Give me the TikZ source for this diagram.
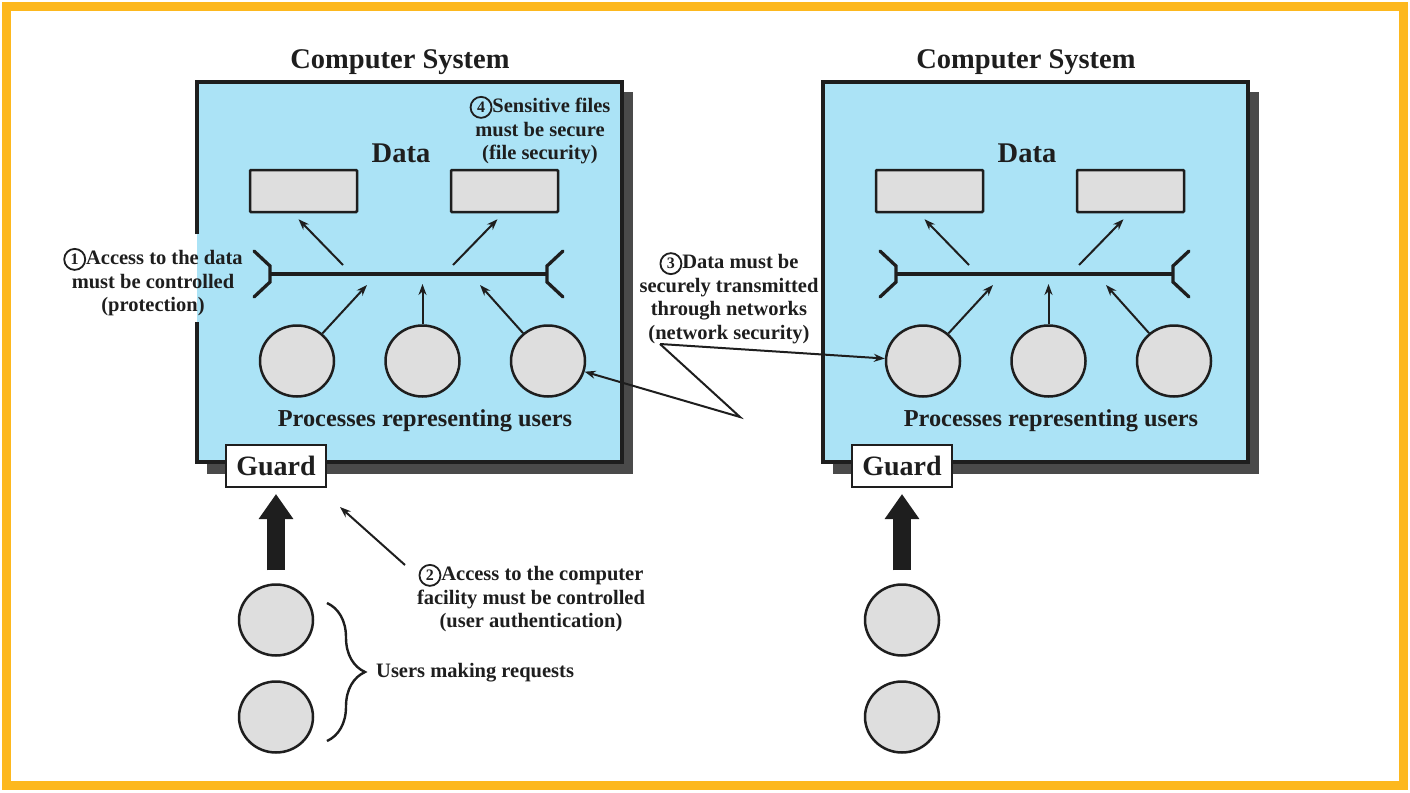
\documentclass[tikz,border=0pt]{standalone}
\usepackage{fontspec}
\setmainfont{Liberation Serif}
\usetikzlibrary{arrows.meta,shapes.geometric,decorations.pathreplacing,calc}
\definecolor{frameorange}{RGB}{253,184,30}
\definecolor{sysblue}{RGB}{171,227,246}
\definecolor{boxgray}{RGB}{222,222,222}
\definecolor{shadowc}{RGB}{74,74,74}
\definecolor{ink}{RGB}{30,30,30}
\newcommand{\cnum}[1]{\tikz[baseline=(cn.base)]\node[draw=ink,circle,line width=1.8pt,inner sep=0pt,minimum size=21pt](cn){\fontsize{16}{16}\selectfont\bfseries #1};}
\newcommand{\drawsys}[2]{%
\begin{scope}[xshift=#2]
  \fill[shadowc] (207,92) rectangle (633,474);
  \fill[sysblue] (197,82) rectangle (622,462);
  \node[title] (#1title) at (400,62) {Computer System};
  \node[title] (#1data) at (401,153) {Data};
  \node[datab] (#1d1) at (303.5,191) {};
  \node[datab] (#1d2) at (504.5,191) {};
  \coordinate (#1bl) at (270,274);
  \coordinate (#1br) at (547,274);
  \draw[bus] (#1bl) -- (#1br);
  \draw[bus,line cap=round,line join=miter] (254,251) -- (270,266) -- (270,282) -- (254,297);
  \draw[bus,line cap=round,line join=miter] (563,251) -- (547,266) -- (547,282) -- (563,297);
  \coordinate (#1s1) at (343,265);
  \coordinate (#1s2) at (453,265);
  \draw[arr] (#1s1) -- ([xshift=-5pt,yshift=-6pt]#1d1.south);
  \draw[arr] (#1s2) -- ([xshift=-7pt,yshift=-6pt]#1d2.south);
  \node[proc] (#1p1) at (297,361) {};
  \node[proc] (#1p2) at (422.5,361) {};
  \node[proc] (#1p3) at (548,361) {};
  \coordinate (#1e1) at (367,285);
  \coordinate (#1e2) at (422.5,284);
  \coordinate (#1e3) at (480,285);
  \draw[arr] (#1p1) -- (#1e1);
  \draw[arr] (#1p2) -- (#1e2);
  \draw[arr] (#1p3) -- (#1e3);
  \node[sub] (#1proc) at (425,421) {Processes representing users};
  \node[proc] (#1u1) at (276,620) {};
  \node[proc] (#1u2) at (276,717) {};
\end{scope}}
\begin{document}
\begin{tikzpicture}[x=1pt,y=-1pt,
  title/.style={font=\fontsize{28.5}{31}\selectfont\bfseries,text=ink,inner sep=0pt},
  sub/.style={font=\fontsize{24.3}{28}\selectfont\bfseries,text=ink,inner sep=0pt},
  anno/.style={font=\fontsize{20.5}{23.5}\selectfont\bfseries,text=ink,align=center,inner sep=0pt},
  datab/.style={draw=ink,fill=boxgray,line width=2.5pt,minimum width=107pt,minimum height=42pt,inner sep=0pt,rounded corners=1pt},
  proc/.style={ellipse,draw=ink,fill=boxgray,line width=2.5pt,minimum width=74pt,minimum height=71pt,inner sep=0pt},
  guardbox/.style={draw=ink,fill=white,line width=2pt,minimum width=100pt,minimum height=42pt,inner sep=0pt,font=\fontsize{28}{30}\selectfont\bfseries,text=ink},
  bus/.style={draw=ink,line width=3.3pt},
  arr/.style={draw=ink,line width=2pt,-{Stealth[length=11pt,width=8pt]}},
  bigarr/.style={draw=ink,line width=18pt,-{Triangle[length=25pt,width=33pt]},shorten <=13pt,shorten >=6pt},
  sysborder/.style={draw=ink,line width=3.5pt,line join=miter}]
\useasboundingbox (0,0) rectangle (1410,792);
\fill[white] (0,0) rectangle (1410,792);
\draw[frameorange,line width=9.5pt] (6.5,6.5) rectangle (1403.5,785.5);
% left system
\drawsys{L}{0pt}
\draw[sysborder] (197,234) -- (197,82) -- (622,82) -- (622,462) -- (240,462);
\draw[sysborder] (197,322) -- (197,462) -- (226,462);
% right system
\drawsys{R}{626pt}
\draw[sysborder] (823,82) rectangle (1248,462);
% guards and the thick arrows into them
\node[guardbox] (Lguard) at (276,466) {Guard};
\node[guardbox] (Rguard) at (902,466) {Guard};
\draw[bigarr] (Lu1) -- (Lguard);
\draw[bigarr] (Ru1) -- (Rguard);
% annotations
\node[anno] (n1) at (153,282) {\cnum{1}Access to the data\\must be controlled\\(protection)};
\node[anno] (n4) at (540,130) {\cnum{4}Sensitive files\\must be secure\\(file security)};
\node[anno] (n3) at (729,298) {\cnum{3}Data must be\\securely transmitted\\through networks\\(network security)};
\node[anno] (n2) at (531,598) {\cnum{2}Access to the computer\\facility must be controlled\\(user authentication)};
\node[anno,anchor=west] (nu) at (376,673) {Users making requests};
% arrow 2
\coordinate (c2) at (340,507);
\coordinate (s2) at (405,565);
\draw[arr] (s2) -- (c2);
% network lines
\coordinate (p3) at (660,344);
\coordinate (q3) at (740,417);
\draw[arr] (p3) -- (Rp1);
\draw[arr] (p3) -- (q3) -- (Lp3);
% brace
\draw[draw=ink,line width=2.4pt,decorate,decoration={brace,amplitude=38pt}] (327,603) -- (327,741);
\end{tikzpicture}
\end{document}
